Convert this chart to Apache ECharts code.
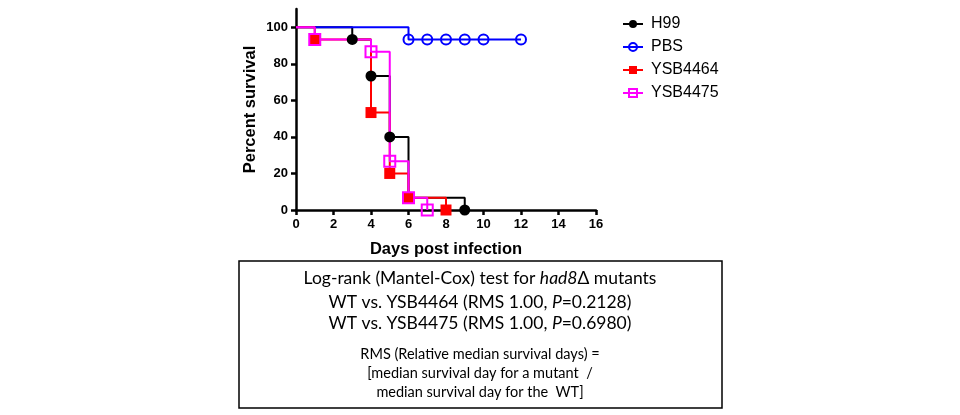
<!DOCTYPE html>
<html>
<head>
	<meta charset="utf-8" />
	<title>had8 survival</title>
	<style>
		* {
			padding: 0;
			margin: 0;
		}
		body {
			background: #fff;
		}
	</style>
</head>
<body>
	<div id="main" style="width:960px;height:415px;"></div>
<script src="https://cdn.jsdelivr.net/npm/echarts@6/dist/echarts.min.js"></script>
<script type="text/javascript">
	// Kaplan-Meier steps: day of each event and percent surviving after it
	var h99Days = [0, 3, 4, 5, 6, 9];
	var h99Surv = [100, 93.33, 73.33, 40, 6.67, 0];
	var pbsDays = [0, 6, 7, 8, 9, 10, 12];
	var pbsSurv = [100, 93.33, 93.33, 93.33, 93.33, 93.33, 93.33];
	var ysb4464Days = [0, 1, 4, 5, 6, 8];
	var ysb4464Surv = [100, 93.33, 53.33, 20, 6.67, 0];
	var ysb4475Days = [0, 1, 4, 5, 6, 7];
	var ysb4475Surv = [100, 93.33, 86.67, 26.67, 6.67, 0];
	var yTicks = [0, 20, 40, 60, 80, 100];

	var chartDom = document.getElementById('main');
	var myChart = echarts.init(chartDom);

	// first point (day 0) has no marker
	function toSteps(days, surv) {
		return days.map(function (d, i) {
			var p = { value: [d, surv[i]] };
			if (i === 0) {
				p.symbol = 'none';
			}
			return p;
		});
	}

	var axisFont = {
		color: '#000',
		fontFamily: 'Liberation Sans, Arial',
		fontWeight: 'bold',
		fontSize: 13
	};
	var titleFont = {
		color: '#000',
		fontFamily: 'Liberation Sans, Arial',
		fontWeight: 'bold',
		fontSize: 16.5
	};

	var option = {
		animation: false,
		grid: {
			left: 296,
			right: 364,
			top: 9,
			bottom: 205
		},
		legend: {
			orient: 'vertical',
			left: 617,
			top: 11,
			itemWidth: 20,
			itemHeight: 10,
			itemGap: 7,
			textStyle: {
				color: '#000',
				fontFamily: 'Liberation Sans, Arial',
				fontSize: 16,
				padding: [0, 0, 0, 3]
			},
			data: ['H99', 'PBS', 'YSB4464', 'YSB4475']
		},
		xAxis: {
			type: 'value',
			min: 0,
			max: 16,
			interval: 2,
			splitLine: { show: false },
			axisLine: { onZero: false, lineStyle: { color: '#000', width: 2.5 } },
			axisTick: { length: 5, lineStyle: { color: '#000', width: 2.5 } },
			axisLabel: Object.assign({ margin: 8 }, axisFont),
			name: 'Days post infection',
			nameLocation: 'middle',
			nameGap: 31,
			nameTextStyle: titleFont
		},
		yAxis: {
			type: 'value',
			min: 0,
			max: 110,
			splitLine: { show: false },
			axisLine: { show: true, lineStyle: { color: '#000', width: 2.5 } },
			axisTick: { show: true, length: 5, customValues: yTicks, lineStyle: { color: '#000', width: 2.5 } },
			axisLabel: Object.assign({ margin: 8, customValues: yTicks }, axisFont),
			name: 'Percent survival',
			nameLocation: 'middle',
			nameGap: 37,
			nameTextStyle: titleFont
		},
		series: [
			{
				name: 'H99',
				type: 'line',
				step: 'end',
				data: toSteps(h99Days, h99Surv),
				symbol: 'circle',
				symbolSize: 11,
				itemStyle: { color: '#000' },
				lineStyle: { color: '#000', width: 2 }
			},
			{
				name: 'PBS',
				type: 'line',
				step: 'end',
				data: toSteps(pbsDays, pbsSurv),
				symbol: 'circle',
				symbolSize: 10,
				itemStyle: { color: 'rgba(0,0,0,0)', borderColor: '#0000ff', borderWidth: 2 },
				lineStyle: { color: '#0000ff', width: 2 }
			},
			{
				name: 'YSB4464',
				type: 'line',
				step: 'end',
				data: toSteps(ysb4464Days, ysb4464Surv),
				symbol: 'rect',
				symbolSize: 11,
				itemStyle: { color: '#ff0000' },
				lineStyle: { color: '#ff0000', width: 2 }
			},
			{
				name: 'YSB4475',
				type: 'line',
				step: 'end',
				data: toSteps(ysb4475Days, ysb4475Surv),
				symbol: 'rect',
				symbolSize: 11,
				itemStyle: { color: 'rgba(0,0,0,0)', borderColor: '#ff00ff', borderWidth: 2 },
				lineStyle: { color: '#ff00ff', width: 2 }
			}
		],
		// statistics box under the plot
		graphic: [
			{
				type: 'rect',
				shape: { x: 239, y: 261, width: 483, height: 147 },
				style: { fill: '#fff', stroke: '#000', lineWidth: 1.5 }
			},
			{
				type: 'text',
				x: 480,
				y: 278,
				style: {
					text: 'Log-rank (Mantel-Cox) test for {i|had8}Δ mutants',
					align: 'center',
					verticalAlign: 'middle',
					fill: '#000',
					font: '17.5px Lato',
					rich: { i: { fontStyle: 'italic', fontSize: 17.5, fontFamily: 'Lato' } }
				}
			},
			{
				type: 'text',
				x: 480,
				y: 302,
				style: {
					text: 'WT vs. YSB4464 (RMS 1.00, {i|P}=0.2128)',
					align: 'center',
					verticalAlign: 'middle',
					fill: '#000',
					font: '17.5px Lato',
					rich: { i: { fontStyle: 'italic', fontSize: 17.5, fontFamily: 'Lato' } }
				}
			},
			{
				type: 'text',
				x: 480,
				y: 323,
				style: {
					text: 'WT vs. YSB4475 (RMS 1.00, {i|P}=0.6980)',
					align: 'center',
					verticalAlign: 'middle',
					fill: '#000',
					font: '17.5px Lato',
					rich: { i: { fontStyle: 'italic', fontSize: 17.5, fontFamily: 'Lato' } }
				}
			},
			{
				type: 'text',
				x: 480,
				y: 373,
				style: {
					text: 'RMS (Relative median survival days) =\n[median survival day for a mutant  /\nmedian survival day for the  WT]',
					align: 'center',
					verticalAlign: 'middle',
					fill: '#000',
					font: '14.5px Lato',
					lineHeight: 19
				}
			}
		]
	};
	myChart.setOption(option);
</script>
</body>
</html>
